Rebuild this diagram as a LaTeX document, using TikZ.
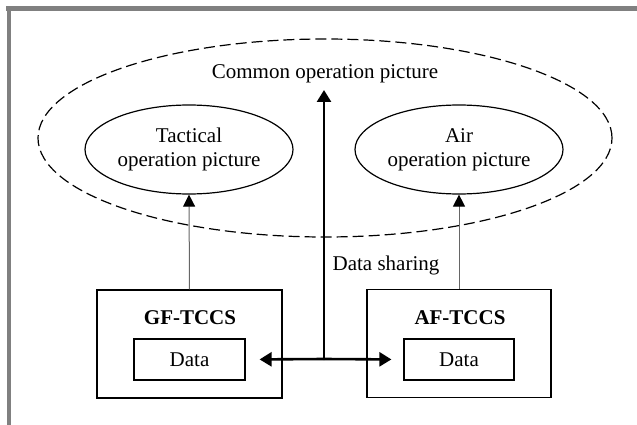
\documentclass[tikz,border=0pt]{standalone}
\usepackage{fontspec}
\setmainfont{Liberation Serif}
\usetikzlibrary{shapes.geometric,arrows.meta}
\begin{document}
\begin{tikzpicture}[x=1pt,y=-1pt,
  every node/.style={font=\fontsize{21}{24}\selectfont, inner sep=0pt},
  oval/.style={ellipse, draw, line width=1.2pt, align=center},
  box/.style={rectangle, draw, line width=1.2pt},
  thinarr/.style={draw=black!60, line width=1pt, -{Triangle[length=12pt,width=12pt,fill=black,color=black]}},
  thickarr/.style={line width=2.6pt, -{Triangle[length=12pt,width=14pt]}},
  frame/.style={fill=black!50, draw=none}]
\useasboundingbox (0,0) rectangle (637,425);
\fill[frame] (6,6) rectangle (637,11);
\fill[frame] (7,6) rectangle (11,425);
\node[ellipse, draw, dashed, dash pattern=on 11pt off 5pt, line width=1.2pt,
  minimum width=574pt, minimum height=198pt] (outer) at (325,138) {};
\node (common) at (325,74) {Common operation picture};
\node[oval, minimum width=208pt, minimum height=89pt] (tac) at (189,149.5) {Tactical\\operation picture};
\node[oval, minimum width=208pt, minimum height=89pt] (air) at (459,149.5) {Air\\operation picture};
\node[box, minimum width=185pt, minimum height=108pt] (gf) at (189.5,344) {};
\node[box, minimum width=184pt, minimum height=108pt] (af) at (459,343.5) {};
\node (gft) at (190,318) {\bfseries GF-TCCS};
\node (aft) at (460,318) {\bfseries AF-TCCS};
\node[box, minimum width=111pt, minimum height=41pt] (gfd) at (189.5,359.5) {Data};
\node[box, minimum width=110pt, minimum height=41pt] (afd) at (459,359.5) {Data};
\node (share) at (386,265) {Data sharing};
\coordinate (hub) at (324,359);
\coordinate (top) at (324,90);
\draw[thinarr] (gf.north) -- (tac.south);
\draw[thinarr] (af.north) -- (air.south);
\draw[thickarr] (hub) -- (top);
\draw[thickarr, shorten >=14pt] (hub) -- (gfd.east);
\draw[thickarr, shorten >=12pt] (hub) -- (afd.west);
\end{tikzpicture}
\end{document}
